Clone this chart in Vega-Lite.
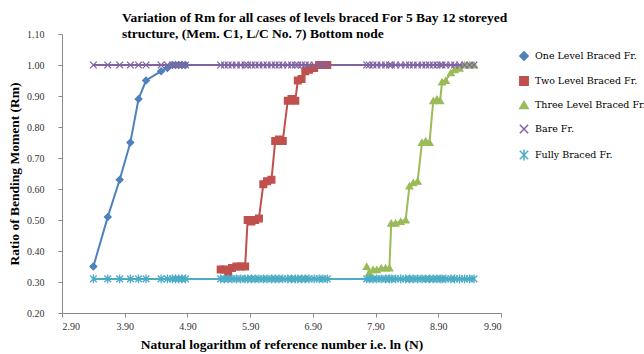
{
 "$schema": "https://vega.github.io/schema/vega-lite/v6.json",
 "width": 439,
 "height": 279,
 "autosize": {"type": "none"},
 "padding": {"left": 62, "top": 34, "right": 143, "bottom": 41},
 "background": "white",
 "view": {"stroke": null},
 "title": {
  "text": ["Variation of Rm for all cases of levels braced For 5 Bay 12 storeyed", "structure,  (Mem. C1, L/C No. 7) Bottom node"],
  "anchor": "start", "frame": "group", "dx": 60, "offset": -11,
  "font": "Liberation Serif", "fontSize": 13.5, "fontWeight": "bold", "color": "#000", "lineHeight": 16
 },
 "config": {
  "axis": {
   "labelFont": "Liberation Serif", "labelFontSize": 10, "labelColor": "#333",
   "titleFont": "Liberation Serif", "titleFontSize": 13.5, "titleFontWeight": "bold", "titleColor": "#000",
   "grid": false, "domainColor": "#888", "tickColor": "#888", "tickSize": 4
  }
 },
 "data": {"values": [
  {"s":"One Level Braced Fr.","x":3.40,"y":0.35},
  {"s":"One Level Braced Fr.","x":3.63,"y":0.51},
  {"s":"One Level Braced Fr.","x":3.82,"y":0.63},
  {"s":"One Level Braced Fr.","x":3.99,"y":0.75},
  {"s":"One Level Braced Fr.","x":4.12,"y":0.89},
  {"s":"One Level Braced Fr.","x":4.24,"y":0.95},
  {"s":"One Level Braced Fr.","x":4.48,"y":0.98},
  {"s":"One Level Braced Fr.","x":4.58,"y":0.99},
  {"s":"One Level Braced Fr.","x":4.66,"y":1.00},
  {"s":"One Level Braced Fr.","x":4.71,"y":1.00},
  {"s":"One Level Braced Fr.","x":4.76,"y":1.00},
  {"s":"One Level Braced Fr.","x":4.81,"y":1.00},
  {"s":"One Level Braced Fr.","x":4.87,"y":1.00},

  {"s":"Two Level Braced Fr.","x":5.43,"y":0.34},
  {"s":"Two Level Braced Fr.","x":5.49,"y":0.34},
  {"s":"Two Level Braced Fr.","x":5.55,"y":0.33},
  {"s":"Two Level Braced Fr.","x":5.61,"y":0.345},
  {"s":"Two Level Braced Fr.","x":5.68,"y":0.35},
  {"s":"Two Level Braced Fr.","x":5.75,"y":0.35},
  {"s":"Two Level Braced Fr.","x":5.82,"y":0.35},
  {"s":"Two Level Braced Fr.","x":5.86,"y":0.50},
  {"s":"Two Level Braced Fr.","x":5.92,"y":0.495},
  {"s":"Two Level Braced Fr.","x":5.98,"y":0.50},
  {"s":"Two Level Braced Fr.","x":6.04,"y":0.505},
  {"s":"Two Level Braced Fr.","x":6.11,"y":0.615},
  {"s":"Two Level Braced Fr.","x":6.17,"y":0.625},
  {"s":"Two Level Braced Fr.","x":6.24,"y":0.63},
  {"s":"Two Level Braced Fr.","x":6.30,"y":0.755},
  {"s":"Two Level Braced Fr.","x":6.36,"y":0.76},
  {"s":"Two Level Braced Fr.","x":6.42,"y":0.755},
  {"s":"Two Level Braced Fr.","x":6.50,"y":0.885},
  {"s":"Two Level Braced Fr.","x":6.56,"y":0.89},
  {"s":"Two Level Braced Fr.","x":6.62,"y":0.885},
  {"s":"Two Level Braced Fr.","x":6.66,"y":0.95},
  {"s":"Two Level Braced Fr.","x":6.72,"y":0.955},
  {"s":"Two Level Braced Fr.","x":6.78,"y":0.98},
  {"s":"Two Level Braced Fr.","x":6.84,"y":0.985},
  {"s":"Two Level Braced Fr.","x":6.92,"y":0.99},
  {"s":"Two Level Braced Fr.","x":7.00,"y":1.00},
  {"s":"Two Level Braced Fr.","x":7.06,"y":1.00},
  {"s":"Two Level Braced Fr.","x":7.13,"y":1.00},

  {"s":"Three Level Braced Fr.","x":7.76,"y":0.35},
  {"s":"Three Level Braced Fr.","x":7.80,"y":0.33},
  {"s":"Three Level Braced Fr.","x":7.86,"y":0.34},
  {"s":"Three Level Braced Fr.","x":7.92,"y":0.34},
  {"s":"Three Level Braced Fr.","x":7.99,"y":0.345},
  {"s":"Three Level Braced Fr.","x":8.06,"y":0.345},
  {"s":"Three Level Braced Fr.","x":8.12,"y":0.345},
  {"s":"Three Level Braced Fr.","x":8.15,"y":0.49},
  {"s":"Three Level Braced Fr.","x":8.22,"y":0.49},
  {"s":"Three Level Braced Fr.","x":8.30,"y":0.495},
  {"s":"Three Level Braced Fr.","x":8.38,"y":0.50},
  {"s":"Three Level Braced Fr.","x":8.44,"y":0.61},
  {"s":"Three Level Braced Fr.","x":8.50,"y":0.62},
  {"s":"Three Level Braced Fr.","x":8.57,"y":0.625},
  {"s":"Three Level Braced Fr.","x":8.64,"y":0.75},
  {"s":"Three Level Braced Fr.","x":8.70,"y":0.755},
  {"s":"Three Level Braced Fr.","x":8.76,"y":0.75},
  {"s":"Three Level Braced Fr.","x":8.82,"y":0.885},
  {"s":"Three Level Braced Fr.","x":8.88,"y":0.89},
  {"s":"Three Level Braced Fr.","x":8.93,"y":0.885},
  {"s":"Three Level Braced Fr.","x":8.96,"y":0.945},
  {"s":"Three Level Braced Fr.","x":9.02,"y":0.95},
  {"s":"Three Level Braced Fr.","x":9.10,"y":0.975},
  {"s":"Three Level Braced Fr.","x":9.16,"y":0.985},
  {"s":"Three Level Braced Fr.","x":9.24,"y":0.99},
  {"s":"Three Level Braced Fr.","x":9.32,"y":1.00},
  {"s":"Three Level Braced Fr.","x":9.40,"y":1.00},
  {"s":"Three Level Braced Fr.","x":9.47,"y":1.00},

  {"s":"Bare Fr.","x":3.40,"y":1.0},{"s":"Bare Fr.","x":3.63,"y":1.0},{"s":"Bare Fr.","x":3.82,"y":1.0},{"s":"Bare Fr.","x":3.99,"y":1.0},
  {"s":"Bare Fr.","x":4.12,"y":1.0},{"s":"Bare Fr.","x":4.24,"y":1.0},{"s":"Bare Fr.","x":4.48,"y":1.0},{"s":"Bare Fr.","x":4.58,"y":1.0},
  {"s":"Bare Fr.","x":4.66,"y":1.0},{"s":"Bare Fr.","x":4.71,"y":1.0},{"s":"Bare Fr.","x":4.76,"y":1.0},{"s":"Bare Fr.","x":4.81,"y":1.0},
  {"s":"Bare Fr.","x":4.87,"y":1.0},
  {"s":"Bare Fr.","x":5.43,"y":1.0},{"s":"Bare Fr.","x":5.49,"y":1.0},{"s":"Bare Fr.","x":5.55,"y":1.0},{"s":"Bare Fr.","x":5.61,"y":1.0},
  {"s":"Bare Fr.","x":5.68,"y":1.0},{"s":"Bare Fr.","x":5.75,"y":1.0},{"s":"Bare Fr.","x":5.82,"y":1.0},{"s":"Bare Fr.","x":5.86,"y":1.0},
  {"s":"Bare Fr.","x":5.92,"y":1.0},{"s":"Bare Fr.","x":5.98,"y":1.0},{"s":"Bare Fr.","x":6.04,"y":1.0},{"s":"Bare Fr.","x":6.11,"y":1.0},
  {"s":"Bare Fr.","x":6.17,"y":1.0},{"s":"Bare Fr.","x":6.24,"y":1.0},{"s":"Bare Fr.","x":6.30,"y":1.0},{"s":"Bare Fr.","x":6.36,"y":1.0},
  {"s":"Bare Fr.","x":6.42,"y":1.0},{"s":"Bare Fr.","x":6.50,"y":1.0},{"s":"Bare Fr.","x":6.56,"y":1.0},{"s":"Bare Fr.","x":6.62,"y":1.0},
  {"s":"Bare Fr.","x":6.66,"y":1.0},{"s":"Bare Fr.","x":6.72,"y":1.0},{"s":"Bare Fr.","x":6.78,"y":1.0},{"s":"Bare Fr.","x":6.84,"y":1.0},
  {"s":"Bare Fr.","x":6.92,"y":1.0},{"s":"Bare Fr.","x":7.00,"y":1.0},{"s":"Bare Fr.","x":7.06,"y":1.0},{"s":"Bare Fr.","x":7.13,"y":1.0},
  {"s":"Bare Fr.","x":7.76,"y":1.0},{"s":"Bare Fr.","x":7.80,"y":1.0},{"s":"Bare Fr.","x":7.86,"y":1.0},{"s":"Bare Fr.","x":7.92,"y":1.0},
  {"s":"Bare Fr.","x":7.99,"y":1.0},{"s":"Bare Fr.","x":8.06,"y":1.0},{"s":"Bare Fr.","x":8.12,"y":1.0},{"s":"Bare Fr.","x":8.15,"y":1.0},
  {"s":"Bare Fr.","x":8.22,"y":1.0},{"s":"Bare Fr.","x":8.30,"y":1.0},{"s":"Bare Fr.","x":8.38,"y":1.0},{"s":"Bare Fr.","x":8.44,"y":1.0},
  {"s":"Bare Fr.","x":8.50,"y":1.0},{"s":"Bare Fr.","x":8.57,"y":1.0},{"s":"Bare Fr.","x":8.64,"y":1.0},{"s":"Bare Fr.","x":8.70,"y":1.0},
  {"s":"Bare Fr.","x":8.76,"y":1.0},{"s":"Bare Fr.","x":8.82,"y":1.0},{"s":"Bare Fr.","x":8.88,"y":1.0},{"s":"Bare Fr.","x":8.93,"y":1.0},
  {"s":"Bare Fr.","x":8.96,"y":1.0},{"s":"Bare Fr.","x":9.02,"y":1.0},{"s":"Bare Fr.","x":9.10,"y":1.0},{"s":"Bare Fr.","x":9.16,"y":1.0},
  {"s":"Bare Fr.","x":9.24,"y":1.0},{"s":"Bare Fr.","x":9.32,"y":1.0},{"s":"Bare Fr.","x":9.40,"y":1.0},{"s":"Bare Fr.","x":9.47,"y":1.0},

  {"s":"Fully Braced Fr.","x":3.40,"y":0.31},{"s":"Fully Braced Fr.","x":3.63,"y":0.31},{"s":"Fully Braced Fr.","x":3.82,"y":0.31},{"s":"Fully Braced Fr.","x":3.99,"y":0.31},
  {"s":"Fully Braced Fr.","x":4.12,"y":0.31},{"s":"Fully Braced Fr.","x":4.24,"y":0.31},{"s":"Fully Braced Fr.","x":4.48,"y":0.31},{"s":"Fully Braced Fr.","x":4.58,"y":0.31},
  {"s":"Fully Braced Fr.","x":4.66,"y":0.31},{"s":"Fully Braced Fr.","x":4.71,"y":0.31},{"s":"Fully Braced Fr.","x":4.76,"y":0.31},{"s":"Fully Braced Fr.","x":4.81,"y":0.31},
  {"s":"Fully Braced Fr.","x":4.87,"y":0.31},
  {"s":"Fully Braced Fr.","x":5.43,"y":0.31},{"s":"Fully Braced Fr.","x":5.49,"y":0.31},{"s":"Fully Braced Fr.","x":5.55,"y":0.31},{"s":"Fully Braced Fr.","x":5.61,"y":0.31},
  {"s":"Fully Braced Fr.","x":5.68,"y":0.31},{"s":"Fully Braced Fr.","x":5.75,"y":0.31},{"s":"Fully Braced Fr.","x":5.82,"y":0.31},{"s":"Fully Braced Fr.","x":5.86,"y":0.31},
  {"s":"Fully Braced Fr.","x":5.92,"y":0.31},{"s":"Fully Braced Fr.","x":5.98,"y":0.31},{"s":"Fully Braced Fr.","x":6.04,"y":0.31},{"s":"Fully Braced Fr.","x":6.11,"y":0.31},
  {"s":"Fully Braced Fr.","x":6.17,"y":0.31},{"s":"Fully Braced Fr.","x":6.24,"y":0.31},{"s":"Fully Braced Fr.","x":6.30,"y":0.31},{"s":"Fully Braced Fr.","x":6.36,"y":0.31},
  {"s":"Fully Braced Fr.","x":6.42,"y":0.31},{"s":"Fully Braced Fr.","x":6.50,"y":0.31},{"s":"Fully Braced Fr.","x":6.56,"y":0.31},{"s":"Fully Braced Fr.","x":6.62,"y":0.31},
  {"s":"Fully Braced Fr.","x":6.66,"y":0.31},{"s":"Fully Braced Fr.","x":6.72,"y":0.31},{"s":"Fully Braced Fr.","x":6.78,"y":0.31},{"s":"Fully Braced Fr.","x":6.84,"y":0.31},
  {"s":"Fully Braced Fr.","x":6.92,"y":0.31},{"s":"Fully Braced Fr.","x":7.00,"y":0.31},{"s":"Fully Braced Fr.","x":7.06,"y":0.31},{"s":"Fully Braced Fr.","x":7.13,"y":0.31},
  {"s":"Fully Braced Fr.","x":7.76,"y":0.31},{"s":"Fully Braced Fr.","x":7.80,"y":0.31},{"s":"Fully Braced Fr.","x":7.86,"y":0.31},{"s":"Fully Braced Fr.","x":7.92,"y":0.31},
  {"s":"Fully Braced Fr.","x":7.99,"y":0.31},{"s":"Fully Braced Fr.","x":8.06,"y":0.31},{"s":"Fully Braced Fr.","x":8.12,"y":0.31},{"s":"Fully Braced Fr.","x":8.15,"y":0.31},
  {"s":"Fully Braced Fr.","x":8.22,"y":0.31},{"s":"Fully Braced Fr.","x":8.30,"y":0.31},{"s":"Fully Braced Fr.","x":8.38,"y":0.31},{"s":"Fully Braced Fr.","x":8.44,"y":0.31},
  {"s":"Fully Braced Fr.","x":8.50,"y":0.31},{"s":"Fully Braced Fr.","x":8.57,"y":0.31},{"s":"Fully Braced Fr.","x":8.64,"y":0.31},{"s":"Fully Braced Fr.","x":8.70,"y":0.31},
  {"s":"Fully Braced Fr.","x":8.76,"y":0.31},{"s":"Fully Braced Fr.","x":8.82,"y":0.31},{"s":"Fully Braced Fr.","x":8.88,"y":0.31},{"s":"Fully Braced Fr.","x":8.93,"y":0.31},
  {"s":"Fully Braced Fr.","x":8.96,"y":0.31},{"s":"Fully Braced Fr.","x":9.02,"y":0.31},{"s":"Fully Braced Fr.","x":9.10,"y":0.31},{"s":"Fully Braced Fr.","x":9.16,"y":0.31},
  {"s":"Fully Braced Fr.","x":9.24,"y":0.31},{"s":"Fully Braced Fr.","x":9.32,"y":0.31},{"s":"Fully Braced Fr.","x":9.40,"y":0.31},{"s":"Fully Braced Fr.","x":9.47,"y":0.31}
 ]},
 "encoding": {
  "x": {"field": "x", "type": "quantitative",
   "scale": {"domain": [2.9, 9.9], "nice": false, "zero": false},
   "axis": {"values": [2.9, 3.9, 4.9, 5.9, 6.9, 7.9, 8.9, 9.9], "format": ".2f", "labelPadding": 4, "titlePadding": 6,
    "title": "Natural logarithm of reference number  i.e. ln (N)"}},
  "y": {"field": "y", "type": "quantitative",
   "scale": {"domain": [0.2, 1.1], "nice": false, "zero": false},
   "axis": {"values": [0.2, 0.3, 0.4, 0.5, 0.6, 0.7, 0.8, 0.9, 1.0, 1.1], "format": ".2f", "labelPadding": 14, "titlePadding": 5,
    "title": "Ratio of Bending Moment (Rm)"}}
 },
 "layer": [
  {
   "mark": {"type": "line", "strokeWidth": 2},
   "encoding": {
    "color": {"field": "s", "type": "nominal",
     "scale": {"domain": ["One Level Braced Fr.", "Two Level Braced Fr.", "Three Level Braced Fr.", "Bare Fr.", "Fully Braced Fr."],
      "range": ["#4F81BD", "#C0504D", "#9BBB59", "#8064A2", "#4BACC6"]},
     "legend": {
      "title": null, "orient": "none", "legendX": 457, "legendY": 17, "padding": 0,
      "labelFont": "DejaVu Serif", "labelFontSize": 9.5, "labelColor": "#000", "labelOffset": 6, "labelLimit": 0,
      "symbolSize": 70, "rowPadding": 9, "symbolStrokeWidth": 1.5
     }}
   }
  },
  {
   "mark": {"type": "point", "filled": true, "opacity": 1, "strokeWidth": 1.3, "size": 45},
   "encoding": {
    "fill": {"field": "s", "type": "nominal", "legend": null,
     "scale": {"domain": ["One Level Braced Fr.", "Two Level Braced Fr.", "Three Level Braced Fr.", "Bare Fr.", "Fully Braced Fr."],
      "range": ["#4F81BD", "#C0504D", "#9BBB59", "#8064A2", "#4BACC6"]}},
    "stroke": {"field": "s", "type": "nominal", "legend": null,
     "scale": {"domain": ["One Level Braced Fr.", "Two Level Braced Fr.", "Three Level Braced Fr.", "Bare Fr.", "Fully Braced Fr."],
      "range": ["#4F81BD", "#C0504D", "#9BBB59", "#8064A2", "#4BACC6"]}},
    "shape": {"field": "s", "type": "nominal", "legend": null,
     "scale": {"domain": ["One Level Braced Fr.", "Two Level Braced Fr.", "Three Level Braced Fr.", "Bare Fr.", "Fully Braced Fr."],
      "range": ["diamond", "square", "triangle-up", "M-1,-1L1,1M-1,1L1,-1", "M-1,-1L1,1M-1,1L1,-1M0,-1.3L0,1.3"]}}
   }
  }
 ]
}
